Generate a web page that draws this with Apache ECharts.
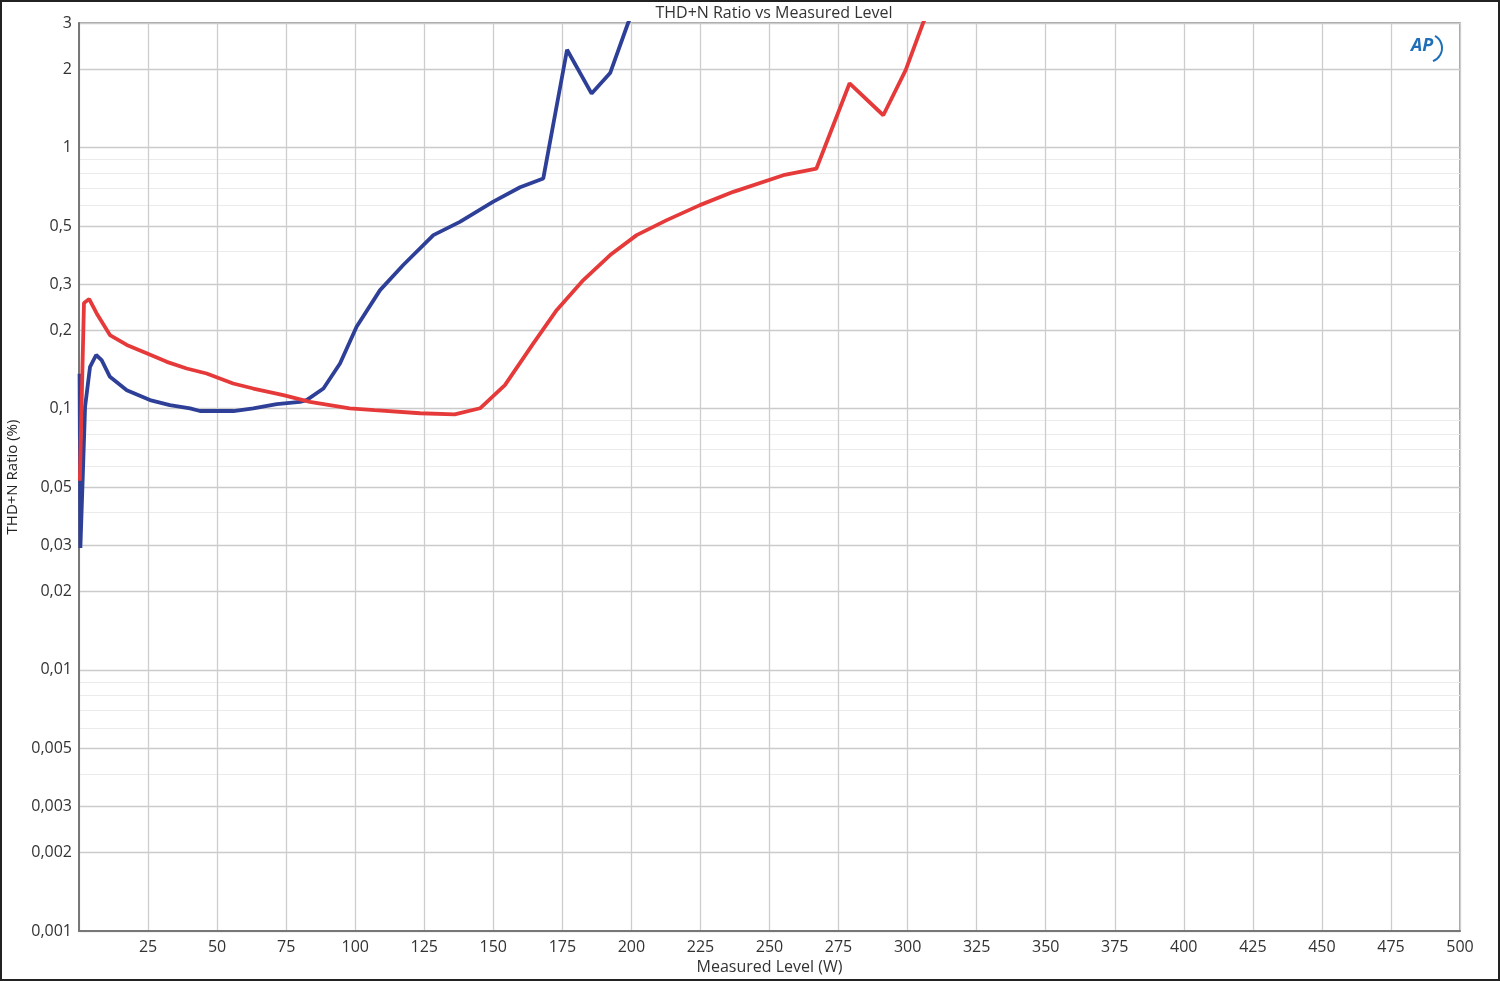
<!DOCTYPE html>
<html>
<head>
<meta charset="utf-8">
<title>THD+N Ratio vs Measured Level</title>
<script src="https://cdn.jsdelivr.net/npm/echarts@6/dist/echarts.min.js"></script>
<style>
  html, body { margin: 0; padding: 0; background: #fff; }
  #chart { width: 1500px; height: 981px; }
</style>
</head>
<body>
<div id="chart"></div>
<script>
// measured level (W) and THD+N (%)
const wattsBlue = [0.2, 0.5, 2.2, 4, 6.2, 8.2, 11.2, 17.3, 25.7, 32.9, 40.2, 43.8, 55.9, 63.1, 71.6, 80, 82.4, 88.5, 94.5, 100.5, 109, 117.4, 128.3, 137.9, 150, 159.7, 168.1, 176.7, 185.6, 192.3, 198.8, 202]
const thdBlue = [0.136, 0.0293, 0.1017, 0.1447, 0.1606, 0.1536, 0.1325, 0.1178, 0.1079, 0.1033, 0.1003, 0.098, 0.098, 0.1003, 0.1042, 0.1062, 0.1079, 0.1195, 0.149, 0.2059, 0.2846, 0.3551, 0.4622, 0.5195, 0.621, 0.7048, 0.762, 2.37, 1.61, 1.93, 3.0, 3.6]

const wattsRed = [0.3, 1.8, 3.7, 6.4, 11.2, 17.3, 24.5, 31.8, 39, 46.2, 55.8, 63.1, 74, 83.6, 98, 107, 123.5, 136, 145.2, 154.2, 164.5, 173, 182.6, 192.3, 201.9, 212.8, 224.8, 236.9, 255, 267, 279, 291.2, 299.3, 305.6, 309]
const thdRed = [0.053, 0.254, 0.263, 0.2318, 0.1915, 0.1755, 0.163, 0.1512, 0.1426, 0.1364, 0.1249, 0.1195, 0.1127, 0.1062, 0.1003, 0.0987, 0.0961, 0.0952, 0.1004, 0.1232, 0.1779, 0.2389, 0.311, 0.3876, 0.4622, 0.5276, 0.6022, 0.677, 0.7837, 0.8313, 1.763, 1.33, 1.98, 3.0, 3.6]

// y tick values
const majorTicks = [0.001, 0.002, 0.003, 0.005, 0.01, 0.02, 0.03, 0.05, 0.1, 0.2, 0.3, 0.5, 1, 2, 3]
const minorTicks = [0.004, 0.006, 0.007, 0.008, 0.009, 0.04, 0.06, 0.07, 0.08, 0.09, 0.4, 0.6, 0.7, 0.8, 0.9]

const zip = (xs, ys) => xs.map((x, i) => [x, ys[i]])

const chart = echarts.init(document.getElementById('chart'))

const fontFamily = '"Open Sans", "DejaVu Sans", sans-serif'

const option = {
  backgroundColor: '#fff',
  animation: false,
  title: {
    text: 'THD+N Ratio vs Measured Level',
    left: 769,
    top: 0,
    textAlign: 'center',
    textStyle: { fontSize: 16, fontWeight: 'normal', color: '#333', fontFamily }
  },
  grid: {
    left: 79,
    right: 40,
    top: 23,
    bottom: 50,
    outerBoundsMode: 'none',
    containLabel: false,
    show: true,
    borderColor: '#888',
    borderWidth: 1.5
  },
  xAxis: {
    type: 'value',
    min: 0,
    max: 500,
    interval: 25,
    name: 'Measured Level (W)',
    nameLocation: 'middle',
    nameGap: 26,
    nameTextStyle: { fontSize: 16, color: '#333', fontFamily },
    axisLine: { lineStyle: { color: '#777', width: 2 } },
    axisTick: { show: false },
    axisLabel: {
      showMinLabel: false,
      fontSize: 16,
      color: '#333',
      margin: 8,
      fontFamily
    },
    splitLine: { lineStyle: { color: '#cdcdcd', width: 1.3 } }
  },
  yAxis: [
    {
      type: 'log',
      min: 0.001,
      max: 3,
      name: 'THD+N Ratio (%)',
      nameLocation: 'middle',
      nameGap: 56,
      nameTextStyle: { fontSize: 15, color: '#222', fontFamily },
      axisLine: { show: true, lineStyle: { color: '#777', width: 2 } },
      axisTick: { show: false, customValues: majorTicks },
      axisLabel: {
        customValues: majorTicks,
        fontSize: 16,
        color: '#333',
        margin: 7,
        fontFamily,
        formatter: v => String(Number(Number(v).toPrecision(6))).replace('.', ',')
      },
      splitLine: { show: true, lineStyle: { color: '#cbcbcb', width: 1.3 } }
    },
    {
      type: 'log',
      min: 0.001,
      max: 3,
      axisLine: { show: false },
      axisTick: { show: false, customValues: minorTicks },
      axisLabel: { show: false, customValues: minorTicks },
      splitLine: { show: true, lineStyle: { color: '#ebebeb', width: 1 } }
    }
  ],
  series: [
    {
      name: 'Left',
      type: 'line',
      data: zip(wattsBlue, thdBlue),
      showSymbol: false,
      clip: true,
      z: 3,
      lineStyle: { color: '#2e3f98', width: 3.8 }
    },
    {
      name: 'Right',
      type: 'line',
      data: zip(wattsRed, thdRed),
      showSymbol: false,
      clip: true,
      z: 4,
      lineStyle: { color: '#e63a3a', width: 3.8 }
    }
  ],
  graphic: [
    {
      type: 'rect',
      shape: { x: 1, y: 1, width: 1498, height: 979 },
      style: { fill: null, stroke: '#222', lineWidth: 2 },
      silent: true
    },
    {
      type: 'text',
      left: 1411,
      top: 37,
      style: {
        text: 'AP',
        fontSize: 18,
        fontStyle: 'italic',
        fontWeight: 'bold',
        fill: '#1f6fb8',
        fontFamily
      }
    },
    {
      type: 'arc',
      shape: { cx: 1428, cy: 48, r: 14, startAngle: -Math.PI / 3, endAngle: Math.PI / 2.6 },
      style: { stroke: '#1f6fb8', lineWidth: 2, fill: null }
    }
  ]
}

chart.setOption(option)
window.addEventListener('resize', () => chart.resize())
</script>
</body>
</html>
